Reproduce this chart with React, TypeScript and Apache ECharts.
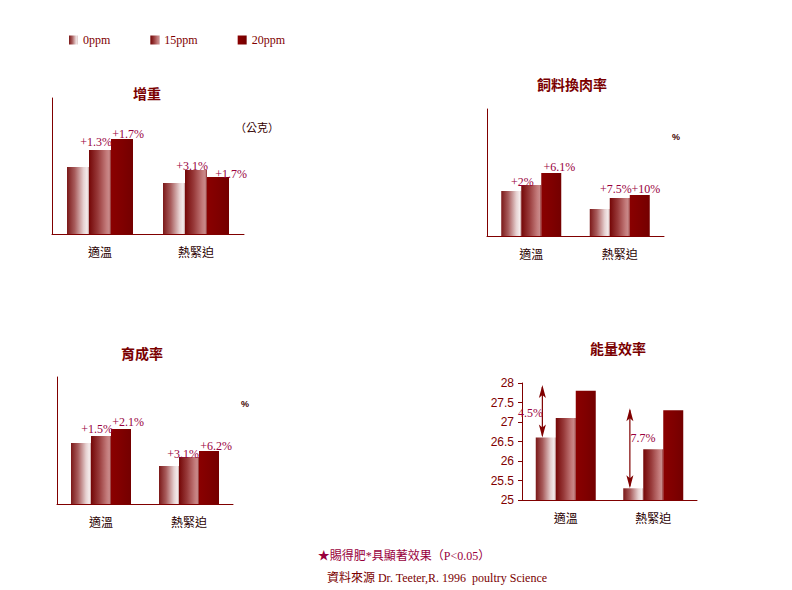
import React, { useEffect, useRef } from 'react';
import * as echarts from 'echarts';

// ---------- data ----------
const categories = ['適溫', '熱緊迫'];
const seriesNames = ['0ppm', '15ppm', '20ppm'];

// 增重 (bar heights, y axis unlabelled)
const gainMax = 136;
const gain0 = [67, 51];
const gain15 = [84, 64];
const gain20 = [95, 57];
const gainLabels15 = ['+1.3%', '+3.1%'];
const gainLabels20 = ['+1.7%', '+1.7%'];

// 飼料換肉率
const fcrMax = 127;
const fcr0 = [45, 27];
const fcr15 = [51, 38];
const fcr20 = [63, 41];
const fcrLabels15 = ['+2%', '+7.5%'];
const fcrLabels20 = ['+6.1%', '+10%'];

// 育成率
const livMax = 127;
const liv0 = [61, 38];
const liv15 = [68, 47];
const liv20 = [75, 53];
const livLabels15 = ['+1.5%', '+3.1%'];
const livLabels20 = ['+2.1%', '+6.2%'];

// 能量效率
const effMin = 25;
const effMax = 28;
const effInterval = 0.5;
const eff0 = [26.6, 25.3];
const eff15 = [27.1, 26.3];
const eff20 = [27.8, 27.3];
const effArrowTo = [27.95, 27.35];
const effLabels = ['4.5%', '7.7%'];

const titles = ['增重', '飼料換肉率', '育成率', '能量效率'];
const footer1 = '★賜得肥*具顯著效果（P<0.05）';
const footer2 = '資料來源 Dr. Teeter,R. 1996  poultry Science';

// ---------- styles ----------
const DARK = '#800000';
const LABEL = '#99003d';
const SERIF = "'Liberation Serif', 'Noto Sans CJK TC', serif";
const CJK = "'Noto Sans CJK TC', sans-serif";

const grad = (stops: [number, string][]) =>
  new echarts.graphic.LinearGradient(0, 0, 1, 0, stops.map(([offset, color]) => ({ offset, color })));

const gradients: Record<string, any> = {
  '0ppm': grad([[0, '#7b1818'], [0.35, '#a85c5c'], [0.75, '#e6d0d0'], [0.92, '#f4ecec'], [1, '#c49a9a']]),
  '15ppm': grad([[0, '#740606'], [0.4, '#983a3a'], [0.8, '#c47c7c'], [0.92, '#c88a8a'], [1, '#8c2a2a']]),
  '20ppm': grad([[0, '#8a0000'], [0.5, '#800000'], [1, '#740000']]),
};

const grids = [
  { left: 52, top: 98, width: 192, height: 136 },
  { left: 487, top: 109, width: 177, height: 127 },
  { left: 57, top: 377, width: 176, height: 127 },
  { left: 522, top: 383, width: 175, height: 117 },
];

const labelOffsets = [
  { l15: [[-4, -2], [-4, 2]], l20: [[6, 1], [13, 3]] },
  { l15: [[-9, 3], [-4, -3]], l20: [[8, 0], [6, 0]] },
  { l15: [[-4, -1], [-6, 3]], l20: [[7, -1], [7, 1]] },
];

function barSeries(idx: number, name: string, values: number[], barWidth: number, labels?: string[], offsets?: number[][]) {
  return {
    type: 'bar',
    name,
    xAxisIndex: idx,
    yAxisIndex: idx,
    barWidth,
    barGap: '0%',
    itemStyle: { color: gradients[name] },
    label: {
      show: false,
      position: 'top',
      distance: 0,
      fontSize: 12,
      fontFamily: SERIF,
      color: LABEL,
    },
    data: values.map((v, i) =>
      labels
        ? { value: v, label: { show: true, formatter: labels[i], offset: offsets ? offsets[i] : [0, 0] } }
        : v
    ),
  };
}

export default function App() {
  const ref = useRef<HTMLDivElement>(null);
  useEffect(() => {
    if (!ref.current) return;
    const chart = echarts.init(ref.current, undefined, { renderer: 'svg' });

    const xAxes = grids.map((_, i) => ({
      type: 'category',
      gridIndex: i,
      data: categories,
      axisLine: { show: true, lineStyle: { color: DARK, width: 1 } },
      axisTick: { show: false },
      axisLabel: { fontSize: 12, fontFamily: CJK, color: '#2a0000', margin: 11 },
    }));
    const yAxes: any[] = [gainMax, fcrMax, livMax].map((max, i) => ({
      type: 'value',
      gridIndex: i,
      min: 0,
      max,
      axisLine: { show: true, lineStyle: { color: DARK, width: 1 } },
      axisTick: { show: false },
      axisLabel: { show: false },
      splitLine: { show: false },
    }));
    yAxes.push({
      type: 'value',
      gridIndex: 3,
      min: effMin,
      max: effMax,
      interval: effInterval,
      axisLine: { show: true, lineStyle: { color: DARK, width: 1 } },
      axisTick: { show: true, length: 4, lineStyle: { color: DARK } },
      axisLabel: { fontSize: 12, fontFamily: "'Liberation Sans', sans-serif", color: DARK, margin: 8 },
      splitLine: { show: false },
    });

    const series: any[] = [
      barSeries(0, '0ppm', gain0, 22),
      barSeries(0, '15ppm', gain15, 22, gainLabels15, labelOffsets[0].l15),
      barSeries(0, '20ppm', gain20, 22, gainLabels20, labelOffsets[0].l20),
      barSeries(1, '0ppm', fcr0, 20),
      barSeries(1, '15ppm', fcr15, 20, fcrLabels15, labelOffsets[1].l15),
      barSeries(1, '20ppm', fcr20, 20, fcrLabels20, labelOffsets[1].l20),
      barSeries(2, '0ppm', liv0, 20),
      barSeries(2, '15ppm', liv15, 20, livLabels15, labelOffsets[2].l15),
      barSeries(2, '20ppm', liv20, 20, livLabels20, labelOffsets[2].l20),
      barSeries(3, '0ppm', eff0, 20),
      barSeries(3, '15ppm', eff15, 20),
      barSeries(3, '20ppm', eff20, 20),
      {
        type: 'custom',
        name: 'arrows',
        xAxisIndex: 3,
        yAxisIndex: 3,
        z: 5,
        clip: false,
        data: categories.map((c, i) => [i, eff0[i], effArrowTo[i]]),
        encode: { x: 0, y: [1, 2] },
        renderItem: (params: any, api: any) => {
          const cat = api.value(0);
          const lo = api.coord([cat, api.value(1)]);
          const hi = api.coord([cat, api.value(2)]);
          const band = api.size([1, 0])[0];
          const x = lo[0] - band * 0.25 - 1.5;
          const yTop = hi[1];
          const yBot = lo[1];
          const head = 13;
          const hw = 3.5;
          const txtOff = params.dataIndex === 0 ? [-12, 1.5] : [13, -10];
          return {
            type: 'group',
            children: [
              { type: 'line', shape: { x1: x, y1: yTop + 2, x2: x, y2: yBot - 2 }, style: { stroke: DARK, lineWidth: 1.2 } },
              { type: 'polygon', shape: { points: [[x, yTop], [x - hw, yTop + head], [x, yTop + head - 3], [x + hw, yTop + head]] }, style: { fill: DARK } },
              { type: 'polygon', shape: { points: [[x, yBot], [x - hw, yBot - head], [x, yBot - head + 3], [x + hw, yBot - head]] }, style: { fill: DARK } },
              {
                type: 'text',
                x: x + txtOff[0],
                y: (yTop + yBot) / 2 + txtOff[1],
                style: {
                  text: effLabels[params.dataIndex],
                  fill: LABEL,
                  font: `12px ${SERIF}`,
                  align: 'center',
                  verticalAlign: 'middle',
                  textAlign: 'center',
                  textVerticalAlign: 'middle',
                },
              },
            ],
          };
        },
      },
    ];

    const txt = (x: number, y: number, text: string, font: string, fill: string) => ({
      type: 'text',
      x,
      y,
      style: { text, font, fill, align: 'center', verticalAlign: 'middle', textAlign: 'center', textVerticalAlign: 'middle' },
    });

    chart.setOption({
      animation: false,
      backgroundColor: '#ffffff',
      legend: {
        data: seriesNames,
        left: 64,
        top: 29,
        itemWidth: 9,
        itemHeight: 9,
        itemGap: 40,
        icon: 'rect',
        textStyle: { fontSize: 12, fontFamily: SERIF, color: DARK },
        selectedMode: false,
      },
      grid: grids.map((g) => ({ ...g, containLabel: false })),
      xAxis: xAxes,
      yAxis: yAxes,
      series,
      graphic: [
        txt(147, 93, titles[0], `bold 14px ${CJK}`, '#7a0000'),
        txt(572, 84, titles[1], `bold 14px ${CJK}`, '#7a0000'),
        txt(142, 353, titles[2], `bold 14px ${CJK}`, '#7a0000'),
        txt(618, 348, titles[3], `bold 14px ${CJK}`, '#7a0000'),
        txt(257, 127, '（公克）', `11px ${CJK}`, '#330000'),
        txt(676, 137, '%', `bold 9px 'Liberation Sans', sans-serif`, '#400000'),
        txt(245, 404, '%', `bold 9px 'Liberation Sans', sans-serif`, '#400000'),
        txt(404, 556, footer1, `12px ${SERIF}`, '#99003d'),
        txt(437, 578, footer2, `12px ${SERIF}`, '#7a0000'),
      ],
    });
    return () => chart.dispose();
  }, []);
  return <div ref={ref} style={{ position: 'absolute', left: 0, top: 0, width: 792, height: 590, background: '#fff' }} />;
}
